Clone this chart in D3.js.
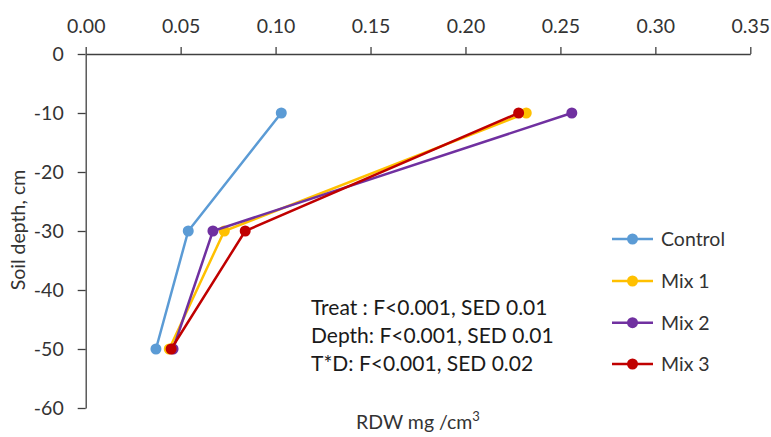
<!DOCTYPE html>
<html>
<head>
<meta charset="utf-8">
<script src="https://cdn.jsdelivr.net/npm/d3@7"></script>
<style>
  html, body { margin: 0; padding: 0; background: #fff; }
  svg { display: block; font-family: Lato, "Open Sans", sans-serif; }
</style>
</head>
<body>
<svg id="chart" width="771" height="437"></svg>
<script>
const depths = [-10, -30, -50];
const seriesNames = ["Control", "Mix 1", "Mix 2", "Mix 3"];
const control = [0.103, 0.054, 0.037];
const mix1 = [0.232, 0.073, 0.044];
const mix2 = [0.256, 0.067, 0.046];
const mix3 = [0.228, 0.084, 0.045];
const colors = ["#5B9BD5", "#FFC000", "#7030A0", "#C00000"];
const xTicks = [0, 0.05, 0.10, 0.15, 0.20, 0.25, 0.30, 0.35];
const yTicks = [0, -10, -20, -30, -40, -50, -60];
const annotation = ["Treat : F<0.001, SED 0.01", "Depth: F<0.001, SED 0.01", "T*D: F<0.001, SED 0.02"];

const allSeries = [control, mix1, mix2, mix3];
const svg = d3.select("#chart");

const x = d3.scaleLinear().domain([0, 0.35]).range([85.7, 750.3]);
const y = d3.scaleLinear().domain([0, -60]).range([54, 408]);

const axisColor = "#404040";
const textColor = "#333333";

// top x axis
const xAxis = svg.append("g").attr("transform", `translate(0,${y(0)})`)
  .call(d3.axisTop(x).tickValues(xTicks).tickFormat(d3.format(".2f")).tickSizeInner(7).tickSizeOuter(0).tickPadding(14));
// left y axis
const yAxis = svg.append("g").attr("transform", `translate(${x(0)},0)`)
  .call(d3.axisLeft(y).tickValues(yTicks).tickFormat(d => d).tickSizeInner(8).tickSizeOuter(0).tickPadding(14));

[xAxis, yAxis].forEach(g => {
  g.select(".domain").attr("stroke", axisColor).attr("stroke-width", 1.3);
  g.selectAll(".tick line").attr("stroke", axisColor).attr("stroke-width", 1.3);
  g.selectAll(".tick text").attr("fill", textColor).style("font-size", "19.5px").style("font-family", "Lato, sans-serif");
});

// series
const line = d3.line().x(d => x(d[0])).y(d => y(d[1]));
allSeries.forEach((vals, i) => {
  const pts = vals.map((v, j) => [v, depths[j]]);
  svg.append("path").datum(pts).attr("d", line)
    .attr("fill", "none").attr("stroke", colors[i]).attr("stroke-width", 2.5);
  svg.selectAll(null).data(pts).enter().append("circle")
    .attr("cx", d => x(d[0])).attr("cy", d => y(d[1])).attr("r", 5.5)
    .attr("fill", colors[i]);
});

// legend
const legY = [239, 281, 322.7, 364];
seriesNames.forEach((name, i) => {
  const g = svg.append("g").attr("transform", `translate(0,${legY[i]})`);
  g.append("line").attr("x1", 612).attr("x2", 653).attr("y1", 0).attr("y2", 0)
    .attr("stroke", colors[i]).attr("stroke-width", 2.5);
  g.append("circle").attr("cx", 632.5).attr("cy", 0).attr("r", 5.5).attr("fill", colors[i]);
  g.append("text").attr("x", 661).attr("y", 0).attr("dy", "0.35em")
    .attr("fill", textColor).style("font-size", "19.5px").text(name);
});

// annotation
annotation.forEach((t, i) => {
  svg.append("text").attr("x", 311).attr("y", 315 + i * 28)
    .attr("fill", "#1a1a1a").style("font-size", "21px").text(t);
});

// axis titles
svg.append("text").attr("x", 418).attr("y", 429).attr("text-anchor", "middle")
  .attr("fill", textColor).style("font-size", "19.5px")
  .html('RDW mg /cm<tspan dy="-8" style="font-size:13px">3</tspan>');
svg.append("text").attr("transform", "translate(25,230) rotate(-90)").attr("text-anchor", "middle")
  .attr("fill", textColor).style("font-size", "19.5px").text("Soil depth, cm");
</script>
</body>
</html>
